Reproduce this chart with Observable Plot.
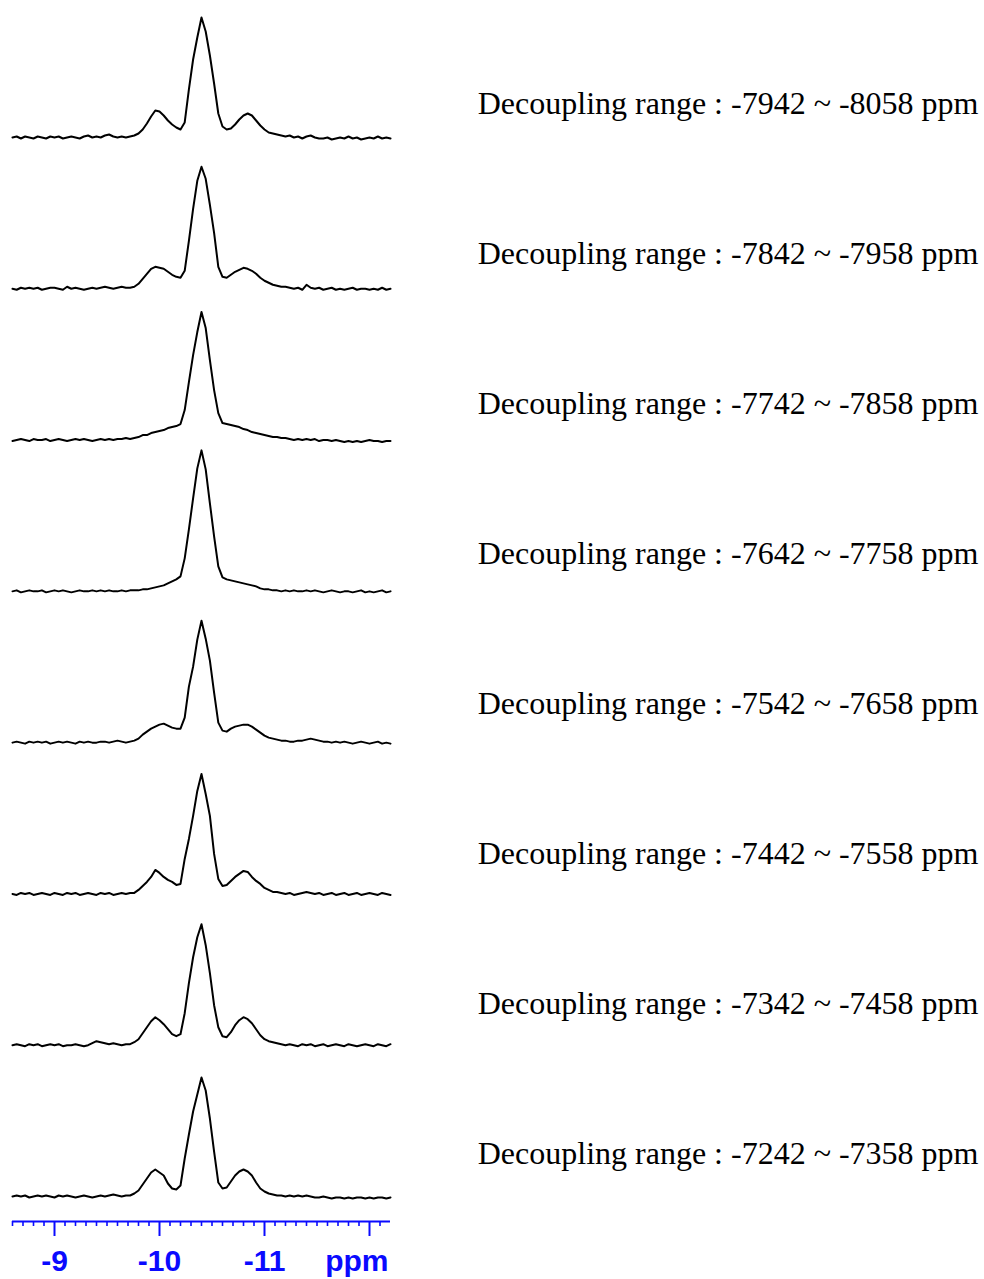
<!DOCTYPE html>
<html><head><meta charset="utf-8">
<script src="https://cdn.jsdelivr.net/npm/d3@7"></script>
<script src="https://cdn.jsdelivr.net/npm/@observablehq/plot@0.6"></script>
<style>body{margin:0;background:#fff}</style>
</head><body><div id="chart"></div>
<script>
// chemical shift grid (ppm)
const ppm = [
-8.60,-8.64,-8.68,-8.72,-8.76,-8.80,-8.84,-8.88,-8.92,-8.96,
-9.00,-9.04,-9.08,-9.12,-9.16,-9.20,-9.24,-9.28,-9.32,-9.36,
-9.40,-9.44,-9.48,-9.52,-9.56,-9.60,-9.64,-9.68,-9.72,-9.76,
-9.80,-9.84,-9.88,-9.92,-9.96,-10.00,-10.04,-10.08,-10.12,-10.16,
-10.20,-10.24,-10.28,-10.32,-10.36,-10.40,-10.44,-10.48,-10.52,-10.56,
-10.60,-10.64,-10.68,-10.72,-10.76,-10.80,-10.84,-10.88,-10.92,-10.96,
-11.00,-11.04,-11.08,-11.12,-11.16,-11.20,-11.24,-11.28,-11.32,-11.36,
-11.40,-11.44,-11.48,-11.52,-11.56,-11.60,-11.64,-11.68,-11.72,-11.76,
-11.80,-11.84,-11.88,-11.92,-11.96,-12.00,-12.04,-12.08,-12.12,-12.16,-12.20];

// intensities (arbitrary units), top spectrum first
const spec1 = [0,1,-1,1,0,-1,1,0,-1,1, 0,1,-1,0,1,0,-1,1,2,0, 1,0,2,3,1,0,1,0,1,2,
 4,8,14,21,27,26,22,17,13,10, 8,15,48,78,100,120,106,82,54,24, 11,8,9,13,18,22,24,22,17,12,
 8,5,4,3,2,1,2,0,1,-1, 1,2,0,-1,-1,0,-2,-1,0,-1, 1,-1,0,-2,-1,0,-1,1,-1,0,-1];
const spec2 = [0,-1,1,0,1,0,1,-1,0,1, 1,0,-1,2,0,1,0,-1,0,1, 0,1,2,1,0,1,2,1,1,2,
 5,10,15,20,22,21,20,17,14,12, 11,18,48,80,108,122,110,84,56,22, 12,11,14,17,19,21,20,18,15,11,
 8,6,4,3,2,2,1,0,1,-1, 4,1,0,1,-1,0,1,-1,0,-1, 0,1,-1,0,0,-1,0,-1,1,-1,0];
const spec3 = [-1,0,1,0,-1,1,0,0,1,-1, 0,1,0,-1,0,1,0,1,0,-1, 0,1,0,1,0,1,1,2,1,2,
 3,5,5,7,8,9,10,12,13,14, 16,30,58,85,108,128,112,80,50,27, 17,16,15,14,13,11,10,8,7,6,
 5,4,3,3,2,2,1,0,1,0, 1,0,1,-1,0,0,-1,0,-1,-2, -1,-2,-1,-2,-1,0,-1,-1,-2,-1,-1];
const spec4 = [0,1,-1,0,1,0,0,1,-1,0, 1,0,1,0,-1,0,1,0,0,1, 0,1,0,1,0,0,1,0,1,1,
 1,2,2,3,4,5,6,8,10,12, 15,33,62,93,123,141,122,88,55,25, 14,12,11,10,9,8,7,6,5,3,
 2,2,1,1,0,1,0,1,0,0, 1,0,1,0,-1,0,1,0,-1,0, 0,-1,0,1,-1,0,-1,0,1,-1,0];
const spec5 = [0,1,0,-1,1,0,1,0,1,-1, 0,1,0,1,0,-1,1,0,1,0, 0,1,1,0,1,2,1,0,1,2,
 4,8,11,14,16,18,19,17,15,14, 14,25,56,76,103,122,104,82,50,20, 12,11,14,16,17,18,18,16,13,10,
 7,5,4,3,2,2,1,1,2,2, 3,4,3,2,1,1,0,1,0,1, 0,-1,0,1,0,-1,0,1,-1,0,-1];
const spec6 = [0,-1,1,0,1,-1,0,1,0,-1, 1,0,-1,1,0,1,-1,0,1,0, -1,1,0,1,-1,0,1,0,1,1,
 4,8,12,17,24,21,17,14,12,9, 10,35,55,78,103,120,100,78,40,15, 8,9,13,17,20,23,22,17,13,10,
 6,4,2,2,1,0,1,-1,0,1, 2,1,0,1,-1,0,1,-1,0,1, -1,0,1,-1,0,1,0,-1,1,0,-1];
const spec7 = [0,1,0,-1,1,0,1,-1,0,1, 0,1,-1,0,0,1,0,-1,0,2, 4,3,2,1,2,1,0,1,1,3,
 6,12,18,24,28,25,21,16,11,9, 11,32,62,88,108,121,100,72,40,18, 9,8,13,20,25,28,26,22,16,10,
 6,4,3,2,1,0,1,0,-1,1, 0,1,-1,0,1,-1,0,1,0,-1, 1,0,-1,0,1,0,-1,1,0,-1,1];
const spec8 = [0,1,0,1,-1,0,1,0,1,0, -1,1,0,1,0,-1,0,1,0,-1, 0,1,0,1,2,1,0,1,1,3,
 6,12,18,24,27,24,21,13,8,7, 11,38,62,85,102,119,106,78,45,14, 8,9,15,21,25,27,25,21,14,8,
 5,3,2,1,1,0,1,0,1,0, 1,0,-1,-1,0,-1,-2,-1,-1,-2, -1,-2,-1,-1,-2,-1,-2,-1,-1,-2,-1];

const rangeStart = [-7942, -7842, -7742, -7642, -7542, -7442, -7342, -7242];
const rangeEnd   = [-8058, -7958, -7858, -7758, -7658, -7558, -7458, -7358];

const majorTicks = [-9, -10, -11, -12];
const majorLabels = ["-9", "-10", "-11", ""];
const minorTicks = [-8.6,-8.7,-8.8,-8.9,-9.1,-9.2,-9.3,-9.4,-9.5,-9.6,-9.7,-9.8,-9.9,
 -10.1,-10.2,-10.3,-10.4,-10.5,-10.6,-10.7,-10.8,-10.9,-11.1,-11.2,-11.3,-11.4,
 -11.5,-11.6,-11.7,-11.8,-11.9,-12.1];
const axisUnit = "ppm";

// ---- layout ----
const W = 984, H = 1279, mT = 10.7, mB = 58, mL = 12, mR = 594;
const yDom = [-25, 126.3];
const blue = "#0a0aff";
const nS = 8;
const band = (H - mT - mB) / nS;
const labelFont = 32;

const spectra = [spec1, spec2, spec3, spec4, spec5, spec6, spec7, spec8];
const rows = spectra.flatMap((s, k) => s.map((v, i) => ({k, ppm: ppm[i], v})));
const labelRows = spectra.map((s, k) => ({k, label: `Decoupling range : ${rangeStart[k]} ~ ${rangeEnd[k]} ppm`}));
const last = nS - 1;

const labelMarks = labelRows.map((d, k) => {
  const targetBaseline = 113 + 150.1 * k;
  const bottom = mT + (k + 1) * band;
  return Plot.text([d], {
    fy: "k", text: "label", frameAnchor: "bottom-right", textAnchor: "end", lineAnchor: "top",
    dx: 588, dy: targetBaseline - bottom - 0.71 * labelFont,
    fontFamily: "Liberation Serif", fontSize: labelFont, fill: "black"
  });
});

const svg = Plot.plot({
  width: W, height: H,
  marginTop: mT, marginBottom: mB, marginLeft: mL, marginRight: mR,
  style: {background: "white", overflow: "visible"},
  x: {domain: [-8.6, -12.2]},
  y: {domain: yDom, axis: null},
  fy: {domain: d3.range(nS), padding: 0, round: false, axis: null},
  marks: [
    Plot.line(rows, {x: "ppm", y: "v", fy: "k", z: "k", stroke: "black", strokeWidth: 2, strokeLinejoin: "round"}),
    Plot.ruleY([{k: last, y: yDom[0]}], {y: "y", fy: "k", stroke: blue, strokeWidth: 2}),
    Plot.axisX(minorTicks, {facetAnchor: "bottom", tickSize: 5, tickFormat: () => "", label: null, stroke: blue, strokeWidth: 1.6}),
    Plot.axisX(majorTicks, {facetAnchor: "bottom", tickSize: 15, tickPadding: 13, strokeWidth: 2,
      tickFormat: d => majorLabels[majorTicks.indexOf(d)], label: null, color: blue,
      fontFamily: "Liberation Sans", fontSize: 30, fontWeight: "bold"}),
    Plot.text([{k: last}], {fy: "k", text: () => axisUnit, frameAnchor: "bottom-right", textAnchor: "end", lineAnchor: "top",
      dx: -2, dy: 28, fill: blue, fontFamily: "Liberation Sans", fontSize: 30, fontWeight: "bold"}),
    ...labelMarks
  ]
});
document.getElementById("chart").append(svg);
</script>
</body></html>
